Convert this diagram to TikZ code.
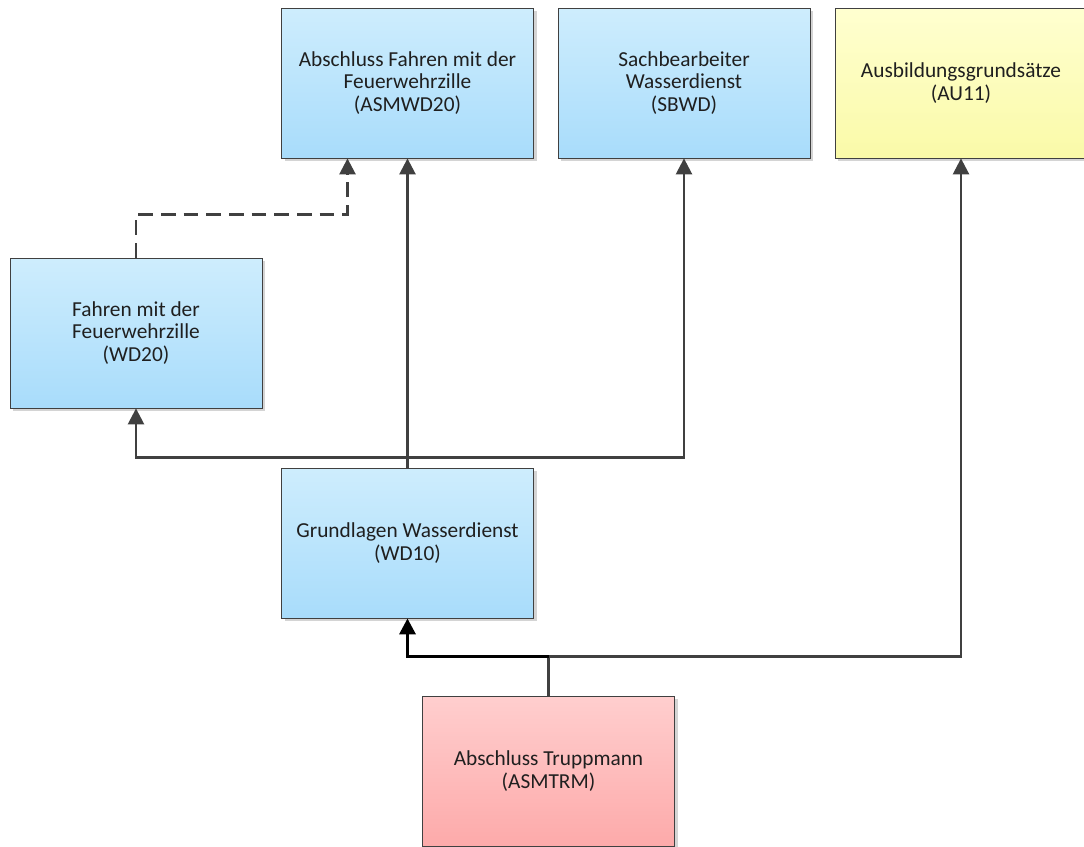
\documentclass[tikz,border=0pt]{standalone}
\usepackage{fontspec}
\setmainfont{Carlito}
\usetikzlibrary{arrows.meta,shadows}

\definecolor{boxline}{RGB}{64,64,64}
\definecolor{wdtop}{RGB}{206,237,253}
\definecolor{wdbottom}{RGB}{168,220,251}
\definecolor{autop}{RGB}{255,255,208}
\definecolor{aubottom}{RGB}{250,250,168}
\definecolor{trmtop}{RGB}{255,206,206}
\definecolor{trmbottom}{RGB}{253,170,170}

\begin{document}
\begin{tikzpicture}[x=0.75pt,y=-0.75pt,
    course/.style={draw=boxline,line width=0.6pt,minimum width=189pt,
      minimum height=112.5pt,align=center,text=black!88,
      font=\fontsize{16}{17}\selectfont,
      drop shadow={shadow xshift=2.5pt,shadow yshift=-2.5pt,fill=black!17,opacity=1}},
    wdbox/.style={course,top color=wdtop,bottom color=wdbottom},
    aubox/.style={course,top color=autop,bottom color=aubottom},
    trmbox/.style={course,top color=trmtop,bottom color=trmbottom},
    link/.style={draw=boxline,line width=1.9pt,-{Triangle[width=12pt,length=12pt]}}]
      \useasboundingbox (0,0) rectangle (1084,846) ;
      % courses
      \node[wdbox] (asmwd20) at (407.5,83) {Abschluss Fahren mit der\\Feuerwehrzille\\(ASMWD20)} ;
      \node[wdbox] (sbwd) at (684,83) {Sachbearbeiter\\Wasserdienst\\(SBWD)} ;
      \node[aubox] (au11) at (961,83) {Ausbildungsgrundsätze\\(AU11)} ;
      \node[wdbox] (wd20) at (136,333) {Fahren mit der\\Feuerwehrzille\\(WD20)} ;
      \node[wdbox] (wd10) at (407.5,543) {Grundlagen Wasserdienst\\(WD10)} ;
      \node[trmbox] (asmtrm) at (548.5,771) {Abschluss Truppmann\\(ASMTRM)} ;
      % prerequisites
      \draw[link,dash pattern=on 11pt off 6pt] (wd20.north) -- ++(0,-43) -| ([xshift=-45pt]asmwd20.south) ;
      \draw[link] (wd10.north) -- (asmwd20.south) ;
      \draw[link] (wd10.north) -- ++(0,-10) -| (wd20.south) ;
      \draw[link] (wd10.north) -- ++(0,-10) -| (sbwd.south) ;
      \draw[link] (asmtrm.north) -- ++(0,-39) coordinate (fork) -| (au11.south) ;
      \draw[link,draw=black,line width=2.5pt] (fork) -| (wd10.south) ;
    \end{tikzpicture}
\end{document}
